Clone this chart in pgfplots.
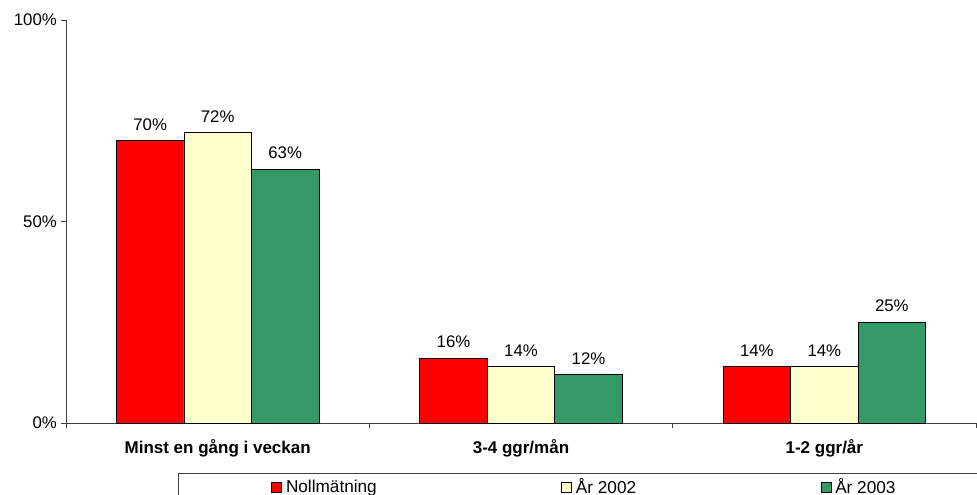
\documentclass[border=0pt]{standalone}
\usepackage{pgfplots}
\pgfplotsset{compat=1.18}
\usepackage{fontspec}
\setmainfont{Liberation Sans}
\definecolor{cRed}{HTML}{FF0000}
\definecolor{cYel}{HTML}{FFFFCC}
\definecolor{cGrn}{HTML}{339966}
\begin{document}
\begin{tikzpicture}
\useasboundingbox (0,0) rectangle (977pt,495pt);
\begin{axis}[
  at={(66pt,72pt)}, anchor=south west,
  scale only axis, width=910pt, height=403pt,
  ybar=0pt, bar width=67.5pt,
  xmin=-0.5, xmax=2.5, ymin=0, ymax=100,
  axis x line*=bottom, axis y line*=left,
  axis line style={black!75, line width=0.8pt},
  xtick={0,1,2},
  xticklabels={Minst en gång i veckan, 3-4 ggr/mån, 1-2 ggr/år},
  major x tick style={draw=none},
  minor xtick={-0.5,0.5,1.5,2.5},
  minor x tick style={black!75, line width=0.8pt},
  minor tick length=5pt,
  ytick={0,50,100},
  yticklabels={0\%,50\%,100\%},
  ytick style={black!75, line width=0.8pt},
  major tick length=5pt,
  tick align=outside,
  /pgf/number format/assume math mode=true,
  yticklabel style={font=\fontsize{16.8}{20}\selectfont, inner sep=0pt, xshift=-4pt},
  xticklabel style={font=\bfseries\fontsize{17}{20}\selectfont, anchor=base, yshift=-26pt},
  clip=false,
  nodes near coords={\pgfmathprintnumber[assume math mode=true]{\pgfplotspointmeta}\%},
  every node near coord/.append style={font=\fontsize{16.8}{20}\selectfont, anchor=south, inner sep=0pt, yshift=10pt, black},
  legend columns=3,
  legend style={at={(0.12308,-0.12407)}, anchor=north west, draw=black!75, line width=0.8pt,
    inner xsep=93pt, inner ysep=3.5pt,
    font=\fontsize{17.2}{20}\selectfont,
    nodes={inner sep=2pt},
    /tikz/every odd column/.append style={column sep=2pt},
    /tikz/every even column/.append style={column sep=182.5pt}},
  legend image code/.code={\draw[#1, line width=0.6pt] (0pt,-5pt) rectangle (10pt,5pt);},
]
\addplot[fill=cRed, draw=black, line width=0.8pt] coordinates {(0,70) (1,16) (2,14)};
\addplot[fill=cYel, draw=black, line width=0.8pt] coordinates {(0,72) (1,14) (2,14)};
\addplot[fill=cGrn, draw=black, line width=0.8pt] coordinates {(0,63) (1,12) (2,25)};
\legend{Nollmätning, År 2002, År 2003}
\end{axis}
\end{tikzpicture}
\end{document}
